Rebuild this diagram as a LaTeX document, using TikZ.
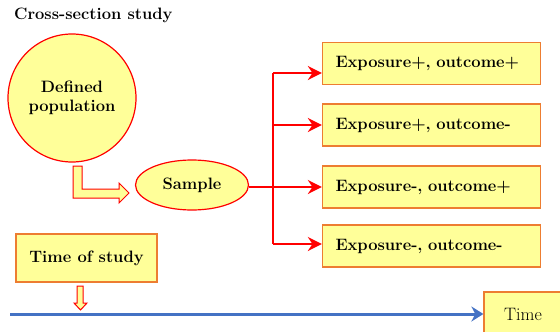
\documentclass[tikz,border=0pt]{standalone}
\usepackage{tikz}
\usetikzlibrary{arrows.meta,shapes.geometric}
\definecolor{paleyellow}{RGB}{255,255,153}
\definecolor{boxorange}{RGB}{237,125,49}
\definecolor{timeblue}{RGB}{68,114,196}
\begin{document}
\begin{tikzpicture}[x=1pt,y=-1pt,
    txt/.style={font=\fontsize{16.5}{19}\selectfont\bfseries},
    popnode/.style={circle,draw=red,fill=paleyellow,line width=1.2pt,minimum size=128pt,inner sep=0pt,align=center,txt},
    samplenode/.style={ellipse,draw=red,fill=paleyellow,line width=1.2pt,minimum width=113pt,minimum height=50pt,inner sep=0pt,txt},
    groupbox/.style={rectangle,draw=boxorange,fill=paleyellow,line width=1.2pt,minimum width=218pt,minimum height=42pt,text width=192pt,inner sep=0pt,align=left,txt},
    branch/.style={draw=red,line width=2pt},
    blockarrow/.style={draw=red,fill=paleyellow,line width=1pt,line join=miter}]
  \useasboundingbox (0,0) rectangle (560,332);
  \clip (0,0) rectangle (560,332);
  % title
  \node[anchor=west,inner sep=0pt,txt] (title) at (14,15) {Cross-section study};
  % population and sample
  \node[popnode] (pop) at (72,98) {Defined\\population};
  \node[samplenode] (sample) at (192,185) {Sample};
  \draw[blockarrow] (73,166) -- (82,166) -- (82,189) -- (119,189) -- (119,183)
    -- (129,193) -- (119,203) -- (119,198) -- (73,198) -- cycle;
  % the four groups
  \node[groupbox] (pp) at (431.5,63.5) {Exposure+, outcome+};
  \node[groupbox] (pm) at (431.5,125) {Exposure+, outcome-};
  \node[groupbox] (mp) at (431.5,187) {Exposure-, outcome+};
  \node[groupbox] (mm) at (431.5,246) {Exposure-, outcome-};
  \coordinate (top) at (273,73);
  \coordinate (fork) at (273,187);
  \coordinate (bot) at (273,244);
  \draw[branch] (sample.east |- fork) -- (fork);
  \draw[branch] (top) -- (bot);
  \draw[branch,-{Stealth[length=14pt,width=14pt]}] (top) -- (top -| pp.west);
  \draw[branch,-{Stealth[length=14pt,width=14pt]}] (pm.west -| fork) -- (pm.west);
  \draw[branch,-{Stealth[length=14pt,width=14pt]}] (mp.west -| fork) -- (mp.west);
  \draw[branch,-{Stealth[length=14pt,width=14pt]}] (bot) -- (bot -| mm.west);
  % time axis
  \node[rectangle,draw=boxorange,fill=paleyellow,line width=1.2pt,minimum width=141pt,minimum height=48pt,txt] (study) at (86.5,258) {Time of study};
  \node[rectangle,draw=boxorange,fill=paleyellow,line width=1.2pt,minimum width=80pt,minimum height=44pt,font=\fontsize{18}{20}\selectfont] (time) at (524,314) {\hspace*{-1pt}Time\hspace*{1pt}};
  \coordinate (start) at (10,314);
  \draw[timeblue,line width=3pt,-{Stealth[length=12pt,width=15pt]}] (start) -- (time.west);
  \draw[blockarrow] (77,286) -- (83,286) -- (83,303) -- (87,303) -- (80.5,310)
    -- (74,303) -- (77,303) -- cycle;
\end{tikzpicture}
\end{document}
